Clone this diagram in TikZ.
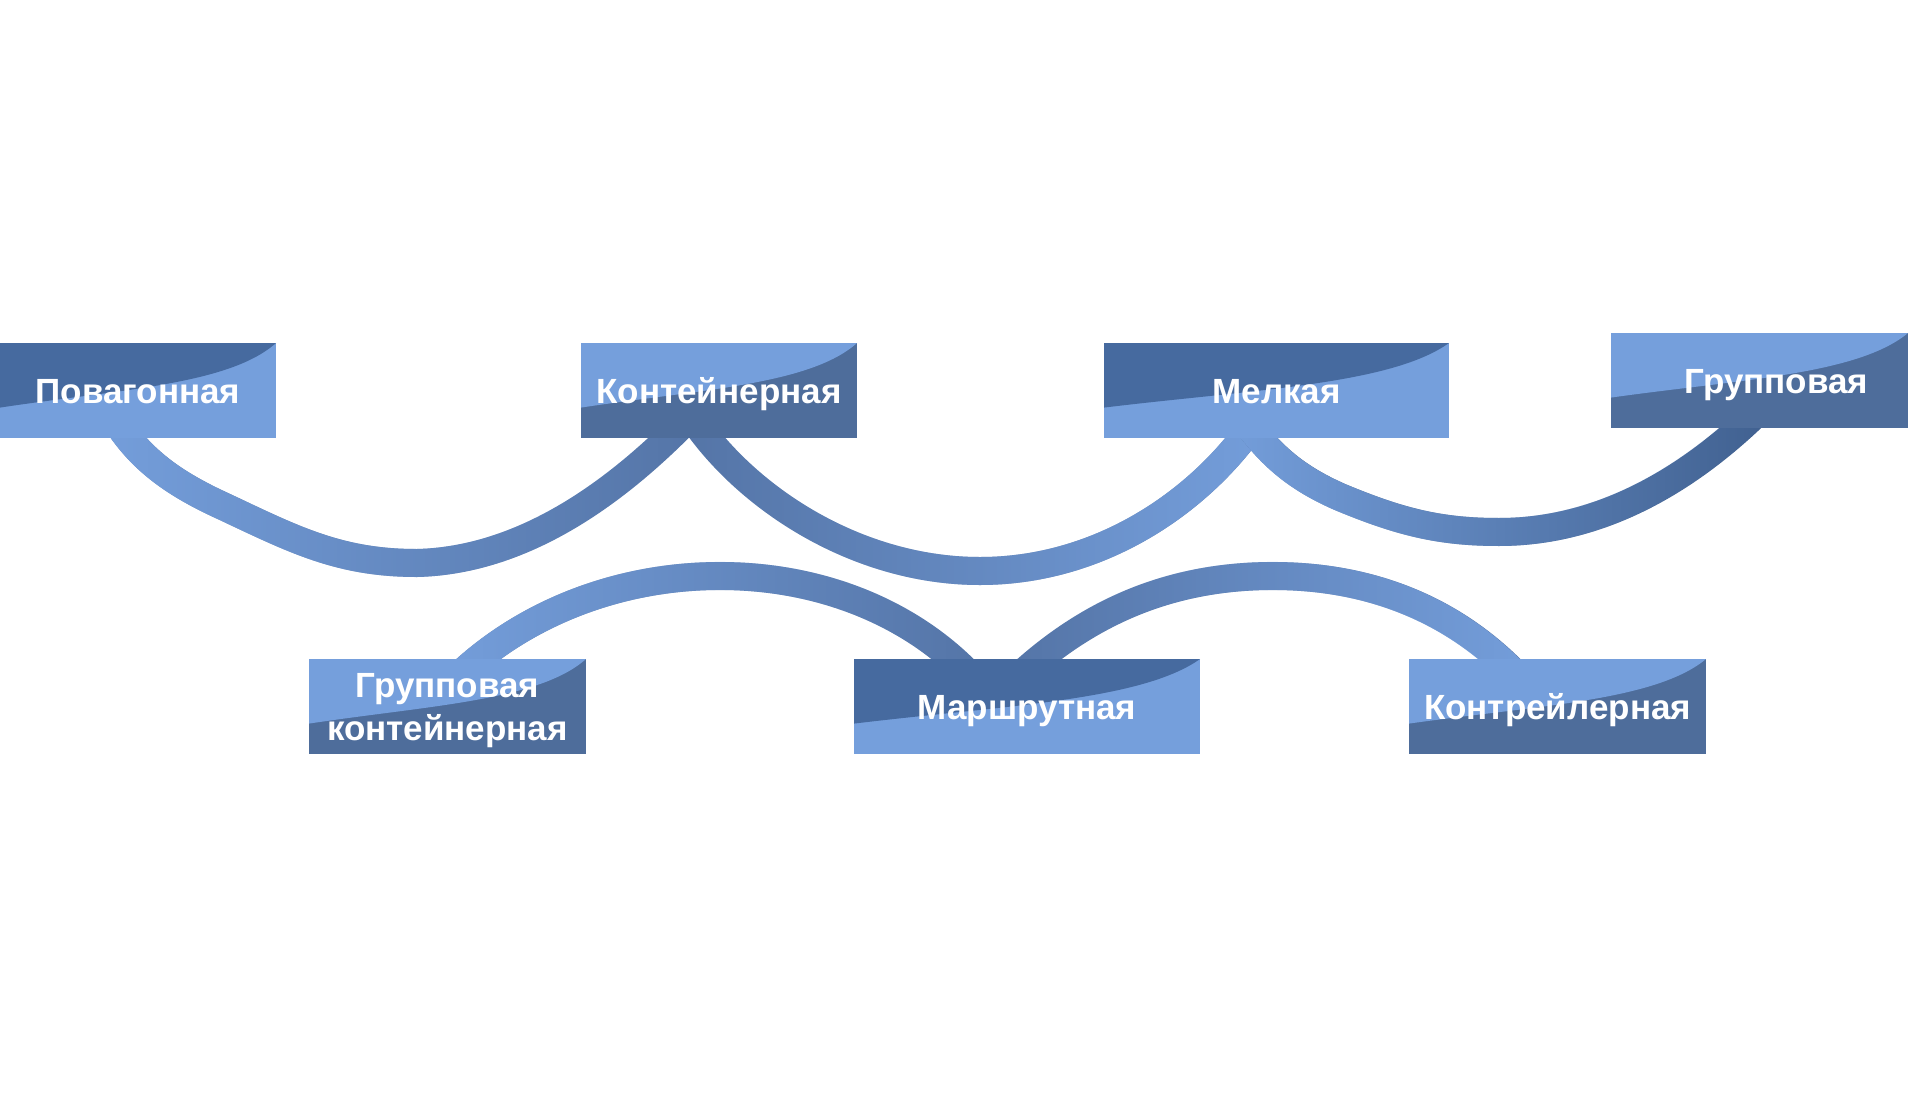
\documentclass[tikz,border=0pt]{standalone}
\usepackage{fontspec}
\setmainfont{Liberation Sans}
\usetikzlibrary{calc,fadings,backgrounds}
\definecolor{boxlight}{HTML}{759FDC}
\definecolor{boxdarktop}{HTML}{466A9F}
\definecolor{boxdarkbot}{HTML}{4E6D9B}
\definecolor{ribdark}{HTML}{5474A6}
\definecolor{ribdeep}{HTML}{40608F}
\tikzfading[name=fade right,left color=transparent!0,right color=transparent!100]
\tikzfading[name=fade left,left color=transparent!100,right color=transparent!0]

\begin{document}
\begin{tikzpicture}[x=1pt,y=-1pt,every node/.style={font=\bfseries\fontsize{35}{43}\selectfont,text=white},
wave/.style 2 args={fill=#2,minimum height=95pt,inner sep=0pt,path picture={\fill[#1] let \p1=(path picture bounding box.north west),\p2=(path picture bounding box.south east) in (\x1,\y1) -- (\x2,\y1) .. controls ({\x1+0.83*(\x2-\x1)},{\y1+0.44*(\y2-\y1)}) and ({\x1+0.43*(\x2-\x1)},{\y1+0.49*(\y2-\y1)}) .. (\x1,{\y1+0.68*(\y2-\y1)}) -- cycle;}},
topdark/.style={wave={boxdarktop}{boxlight}},toplight/.style={wave={boxlight}{boxdarkbot}},
oneline/.style={text height=25pt,text depth=0pt},rib/.style={line width=28pt}]
\useasboundingbox (0,0) rectangle (1909,1097);
% upper row
\node[topdark,oneline,minimum width=276pt] (pov) at (138,390.5) {Повагонная};
\node[toplight,oneline,minimum width=276pt] (cont) at (719,390.5) {Контейнерная};
\node[topdark,oneline,minimum width=345pt] (melk) at (1276.5,390.5) {Мелкая};
\node[toplight,oneline,minimum width=297pt] (grp) at (1759.5,380.5) {\hspace*{34pt}Групповая};
% lower row
\node[toplight,align=center,text height=68pt,text depth=0pt,minimum width=277pt] (grpc) at (447.5,706.5) {Групповая\\контейнерная};
\node[topdark,oneline,minimum width=346pt] (marsh) at (1027,706.5) {Маршрутная};
\node[toplight,oneline,minimum width=297pt] (kontr) at (1557.5,706.5) {Контрейлерная};
\begin{scope}[on background layer]
\draw[rib,draw=ribdark,postaction={draw=boxlight,path fading=fade right}] ([xshift=-33pt,yshift=37pt]pov.south) .. controls (132,455) and (170,482) .. (225,507) .. controls (295,540) and (340,563) .. (417,563) .. controls (540,560) and (640,470) .. ([xshift=-19pt,yshift=32pt]cont.south);
\draw[rib,draw=ribdark,postaction={draw=boxlight,path fading=fade left}] ([xshift=-34pt,yshift=32pt]cont.south) .. controls (735,490) and (850,571) .. (980,571) .. controls (1110,571) and (1215,490) .. ([xshift=-11.5pt,yshift=32pt]melk.south);
\draw[rib,draw=ribdeep,postaction={draw=boxlight,path fading=fade right}] ([xshift=-41.5pt,yshift=32pt]melk.south) .. controls (1265,450) and (1290,475) .. (1340,497) .. controls (1400,522) and (1440,532) .. (1499,532) .. controls (1610,532) and (1700,470) .. ([xshift=5pt,yshift=23pt]grp.south);
\draw[rib,draw=ribdark,postaction={draw=boxlight,path fading=fade right}] ([xshift=-2.5pt,yshift=-31pt]grpc.north) .. controls (510,620) and (610,576) .. (720,576) .. controls (830,576) and (925,620) .. ([xshift=-44pt,yshift=-31pt]marsh.north);
\draw[rib,draw=ribdark,postaction={draw=boxlight,path fading=fade left}] ([xshift=-22pt,yshift=-31pt]marsh.north) .. controls (1075,620) and (1160,576) .. (1273,576) .. controls (1385,576) and (1470,620) .. ([xshift=-27.5pt,yshift=-31pt]kontr.north);
\end{scope}
\end{tikzpicture}
\end{document}
